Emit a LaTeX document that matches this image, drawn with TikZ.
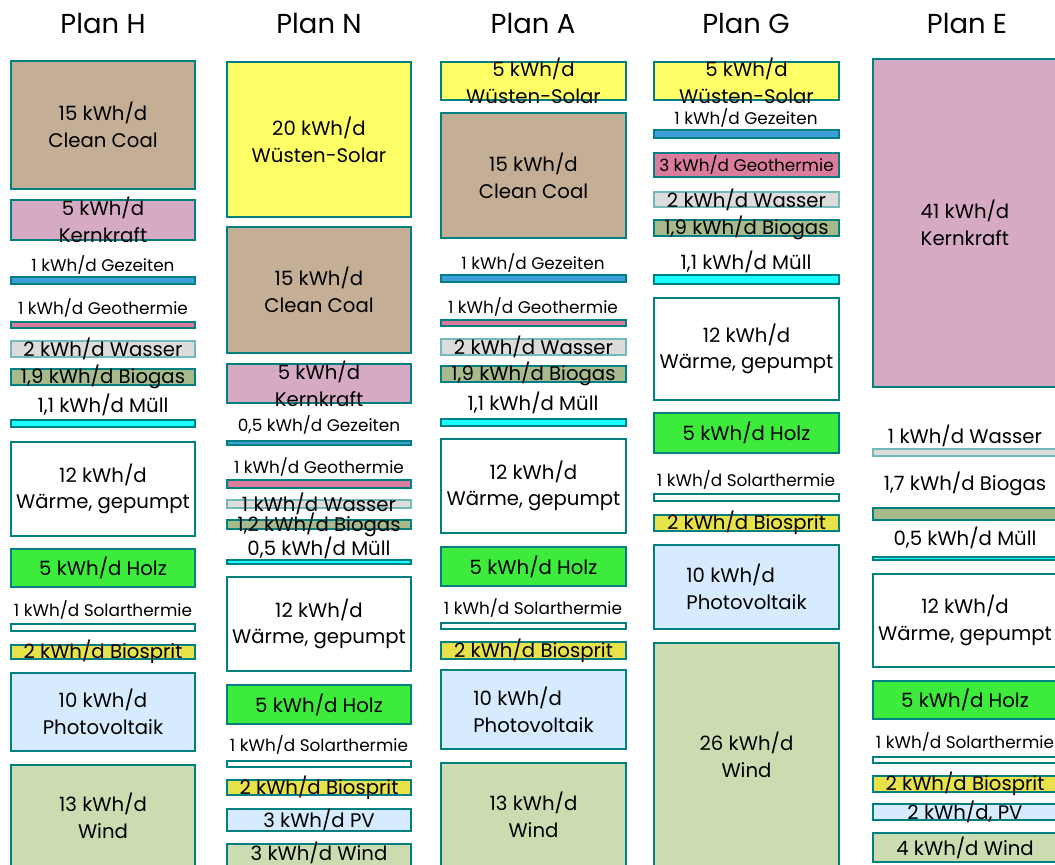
\documentclass[tikz,border=0pt]{standalone}
\usepackage{fontspec}
\setmainfont{Poppins}
\usetikzlibrary{positioning, fit}
\definecolor{coal}{HTML}{C4AE96}
\definecolor{nuc}{HTML}{D7AAC3}
\definecolor{tide}{HTML}{3D9FD9}
\definecolor{geo}{HTML}{DB7C9F}
\definecolor{water}{HTML}{DCDCDC}
\definecolor{bio}{HTML}{A7BA8B}
\definecolor{waste}{HTML}{1AFFFF}
\definecolor{wood}{HTML}{3DEB3D}
\definecolor{fuel}{HTML}{E7E24A}
\definecolor{pv}{HTML}{D6EBFD}
\definecolor{wind}{HTML}{CBDDB0}
\definecolor{desert}{HTML}{FFFF66}
\definecolor{rim}{HTML}{008080}
\tikzset{
  blk/.style={draw=rim, line width=1.8pt, inner sep=0pt, fill=white},
  wblk/.style={blk, draw=rim!55, fill=water},
  txt/.style={align=center, inner sep=0pt, font=\fontsize{14}{19}\selectfont},
  sml/.style={inner sep=0pt, font=\fontsize{12}{15}\selectfont},
  ttl/.style={inner sep=0pt, font=\fontsize{19.5}{24}\selectfont},
}

\begin{document}
\begin{tikzpicture}[x=0.025cm, y=-0.025cm]
\useasboundingbox (0,0) rectangle (1055,864);
\clip (0,0) rectangle (1055,864);

% Plan H
\node[ttl] (hTitle) at (103,23) {Plan H};
\node[blk, fill=coal, fit={(11,61)(195,189)}] (hCoal) {};
\node[txt] (hCoalT) at (hCoal) {15 kWh/d\\Clean Coal};
\node[blk, fill=nuc, fit={(11,200)(195,240)}] (hNuc) {};
\node[txt] (hNucT) at (hNuc) {5 kWh/d\\Kernkraft};
\node[sml] (hTideT) at (103,265) {1 kWh/d Gezeiten};
\node[blk, fill=tide, fit={(11,277)(195,284)}] (hTide) {};
\node[sml] (hGeoT) at (103,308) {1 kWh/d Geothermie};
\node[blk, fill=geo, fit={(11,322)(195,328)}] (hGeo) {};
\node[wblk, fit={(11,341)(195,357)}] (hWater) {};
\node[txt] (hWaterT) at (hWater) {2 kWh/d Wasser};
\node[blk, fill=bio, fit={(11,369)(195,385)}] (hBio) {};
\node[txt] (hBioT) at (hBio) {1,9 kWh/d Biogas};
\node[txt] (hWasteT) at (103,405) {1,1 kWh/d Müll};
\node[blk, fill=waste, fit={(11,420)(195,427)}] (hWaste) {};
\node[blk, fit={(11,442)(195,536)}] (hHeat) {};
\node[txt] (hHeatT) at (hHeat) {12 kWh/d\\Wärme, gepumpt};
\node[blk, fill=wood, fit={(11,549)(195,587)}] (hWood) {};
\node[txt] (hWoodT) at (hWood) {5 kWh/d Holz};
\node[sml] (hSthT) at (103,610) {1 kWh/d Solarthermie};
\node[blk, fit={(11,624)(195,631)}] (hSth) {};
\node[blk, fill=fuel, fit={(11,645)(195,659)}] (hFuel) {};
\node[txt] (hFuelT) at (hFuel) {2 kWh/d Biosprit};
\node[blk, fill=pv, fit={(11,673)(195,751)}] (hPv) {};
\node[txt] (hPvT) at (hPv) {10 kWh/d\\Photovoltaik};
\node[blk, fill=wind, fit={(11,765)(195,866)}] (hWind) {};
\node[txt] (hWindT) at (hWind) {13 kWh/d\\Wind};

% Plan N
\node[ttl] (nTitle) at (319,23) {Plan N};
\node[blk, fill=desert, fit={(227,62)(411,217)}] (nSolar) {};
\node[txt] (nSolarT) at (nSolar) {20 kWh/d\\Wüsten-Solar};
\node[blk, fill=coal, fit={(227,227)(411,353)}] (nCoal) {};
\node[txt] (nCoalT) at (nCoal) {15 kWh/d\\Clean Coal};
\node[blk, fill=nuc, fit={(227,364)(411,403)}] (nNuc) {};
\node[txt] (nNucT) at (nNuc) {5 kWh/d\\Kernkraft};
\node[sml] (nTideT) at (319,425) {0,5 kWh/d Gezeiten};
\node[blk, line width=1.1pt, fill=tide, fit={(227,441)(411,445)}] (nTide) {};
\node[sml] (nGeoT) at (319,467) {1 kWh/d Geothermie};
\node[blk, fill=geo, fit={(227,480)(411,488)}] (nGeo) {};
\node[wblk, fit={(227,500)(411,508)}] (nWater) {};
\node[txt] (nWaterT) at (nWater) {1 kWh/d Wasser};
\node[blk, fill=bio, fit={(227,520)(411,529)}] (nBio) {};
\node[txt] (nBioT) at (nBio) {1,2 kWh/d Biogas};
\node[txt] (nWasteT) at (319,548) {0,5 kWh/d Müll};
\node[blk, fill=waste, fit={(227,560)(411,564)}] (nWaste) {};
\node[blk, fit={(227,577)(411,671)}] (nHeat) {};
\node[txt] (nHeatT) at (nHeat) {12 kWh/d\\Wärme, gepumpt};
\node[blk, fill=wood, fit={(227,685)(411,724)}] (nWood) {};
\node[txt] (nWoodT) at (nWood) {5 kWh/d Holz};
\node[sml] (nSthT) at (319,745) {1 kWh/d Solarthermie};
\node[blk, fit={(227,761)(411,767)}] (nSth) {};
\node[blk, fill=fuel, fit={(227,780)(411,795)}] (nFuel) {};
\node[txt] (nFuelT) at (nFuel) {2 kWh/d Biosprit};
\node[blk, fill=pv, fit={(227,809)(411,831)}] (nPv) {};
\node[txt] (nPvT) at (nPv) {3 kWh/d PV};
\node[blk, fill=wind, fit={(227,844)(411,868)}] (nWind) {};
\node[txt] (nWindT) at (319,853) {3 kWh/d Wind};

% Plan A
\node[ttl] (aTitle) at (533,23) {Plan A};
\node[blk, fill=desert, fit={(441,62)(626,100)}] (aSolar) {};
\node[txt] (aSolarT) at (aSolar) {5 kWh/d\\Wüsten-Solar};
\node[blk, fill=coal, fit={(441,113)(626,238)}] (aCoal) {};
\node[txt] (aCoalT) at (aCoal) {15 kWh/d\\Clean Coal};
\node[sml] (aTideT) at (533,263) {1 kWh/d Gezeiten};
\node[blk, fill=tide, fit={(441,275)(626,282)}] (aTide) {};
\node[sml] (aGeoT) at (533,307) {1 kWh/d Geothermie};
\node[blk, fill=geo, fit={(441,320)(626,326)}] (aGeo) {};
\node[wblk, fit={(441,339)(626,355)}] (aWater) {};
\node[txt] (aWaterT) at (aWater) {2 kWh/d Wasser};
\node[blk, fill=bio, fit={(441,366)(626,382)}] (aBio) {};
\node[txt] (aBioT) at (aBio) {1,9 kWh/d Biogas};
\node[txt] (aWasteT) at (533,403) {1,1 kWh/d Müll};
\node[blk, fill=waste, fit={(441,419)(626,426)}] (aWaste) {};
\node[blk, fit={(441,439)(626,533)}] (aHeat) {};
\node[txt] (aHeatT) at (aHeat) {12 kWh/d\\Wärme, gepumpt};
\node[blk, fill=wood, fit={(441,547)(626,586)}] (aWood) {};
\node[txt] (aWoodT) at (aWood) {5 kWh/d Holz};
\node[sml] (aSthT) at (533,608) {1 kWh/d Solarthermie};
\node[blk, fit={(441,623)(626,629)}] (aSth) {};
\node[blk, fill=fuel, fit={(441,642)(626,659)}] (aFuel) {};
\node[txt] (aFuelT) at (aFuel) {2 kWh/d Biosprit};
\node[blk, fill=pv, fit={(441,670)(626,749)}] (aPv) {};
\node[txt, align=left] (aPvT) at (aPv) {10 kWh/d\\Photovoltaik};
\node[blk, fill=wind, fit={(441,763)(626,866)}] (aWind) {};
\node[txt] (aWindT) at (aWind) {13 kWh/d\\Wind};

% Plan G
\node[ttl] (gTitle) at (746,23) {Plan G};
\node[blk, fill=desert, fit={(654,62)(839,100)}] (gSolar) {};
\node[txt] (gSolarT) at (gSolar) {5 kWh/d\\Wüsten-Solar};
\node[sml] (gTideT) at (746,118) {1 kWh/d Gezeiten};
\node[blk, fill=tide, fit={(654,130)(839,138)}] (gTide) {};
\node[blk, fill=geo, fit={(654,153)(839,177)}] (gGeo) {};
\node[sml] (gGeoT) at (gGeo) {3 kWh/d Geothermie};
\node[wblk, fit={(654,192)(839,207)}] (gWater) {};
\node[txt] (gWaterT) at (gWater) {2 kWh/d Wasser};
\node[blk, fill=bio, fit={(654,220)(839,236)}] (gBio) {};
\node[txt] (gBioT) at (gBio) {1,9 kWh/d Biogas};
\node[txt] (gWasteT) at (746,262) {1,1 kWh/d Müll};
\node[blk, fill=waste, fit={(654,275)(839,284)}] (gWaste) {};
\node[blk, fit={(654,298)(839,400)}] (gHeat) {};
\node[txt] (gHeatT) at (gHeat) {12 kWh/d\\Wärme, gepumpt};
\node[blk, fill=wood, fit={(654,413)(839,453)}] (gWood) {};
\node[txt] (gWoodT) at (gWood) {5 kWh/d Holz};
\node[sml] (gSthT) at (746,480) {1 kWh/d Solarthermie};
\node[blk, fit={(654,494)(839,501)}] (gSth) {};
\node[blk, fill=fuel, fit={(654,515)(839,531)}] (gFuel) {};
\node[txt] (gFuelT) at (gFuel) {2 kWh/d Biosprit};
\node[blk, fill=pv, fit={(654,545)(839,629)}] (gPv) {};
\node[txt, align=left] (gPvT) at (gPv) {10 kWh/d\\Photovoltaik};
\node[blk, fill=wind, fit={(654,643)(839,866)}] (gWind) {};
\node[txt] (gWindT) at (gWind) {26 kWh/d\\Wind};

% Plan E
\node[ttl] (eTitle) at (967,23) {Plan E};
\node[blk, fill=nuc, fit={(873,59)(1057,387)}] (eNuc) {};
\node[txt, align=left] (eNucT) at (eNuc) {41 kWh/d\\Kernkraft};
\node[txt] (eWaterT) at (965,436) {1 kWh/d Wasser};
\node[wblk, fit={(873,449)(1057,456)}] (eWater) {};
\node[txt] (eBioT) at (965,484) {1,7 kWh/d Biogas};
\node[blk, fill=bio, fit={(873,508)(1057,520)}] (eBio) {};
\node[txt] (eWasteT) at (965,538) {0,5 kWh/d Müll};
\node[blk, fill=waste, fit={(873,557)(1057,560)}] (eWaste) {};
\node[blk, fit={(873,574)(1057,667)}] (eHeat) {};
\node[txt] (eHeatT) at (eHeat) {12 kWh/d\\Wärme, gepumpt};
\node[blk, fill=wood, fit={(873,681)(1057,719)}] (eWood) {};
\node[txt] (eWoodT) at (eWood) {5 kWh/d Holz};
\node[sml] (eSthT) at (965,742) {1 kWh/d Solarthermie};
\node[blk, fit={(873,757)(1057,763)}] (eSth) {};
\node[blk, fill=fuel, fit={(873,776)(1057,792)}] (eFuel) {};
\node[txt] (eFuelT) at (eFuel) {2 kWh/d Biosprit};
\node[blk, fill=pv, fit={(873,804)(1057,820)}] (ePv) {};
\node[txt] (ePvT) at (ePv) {2 kWh/d, PV};
\node[blk, fill=wind, fit={(873,833)(1057,862)}] (eWind) {};
\node[txt] (eWindT) at (eWind) {4 kWh/d Wind};

\end{tikzpicture}
\end{document}
